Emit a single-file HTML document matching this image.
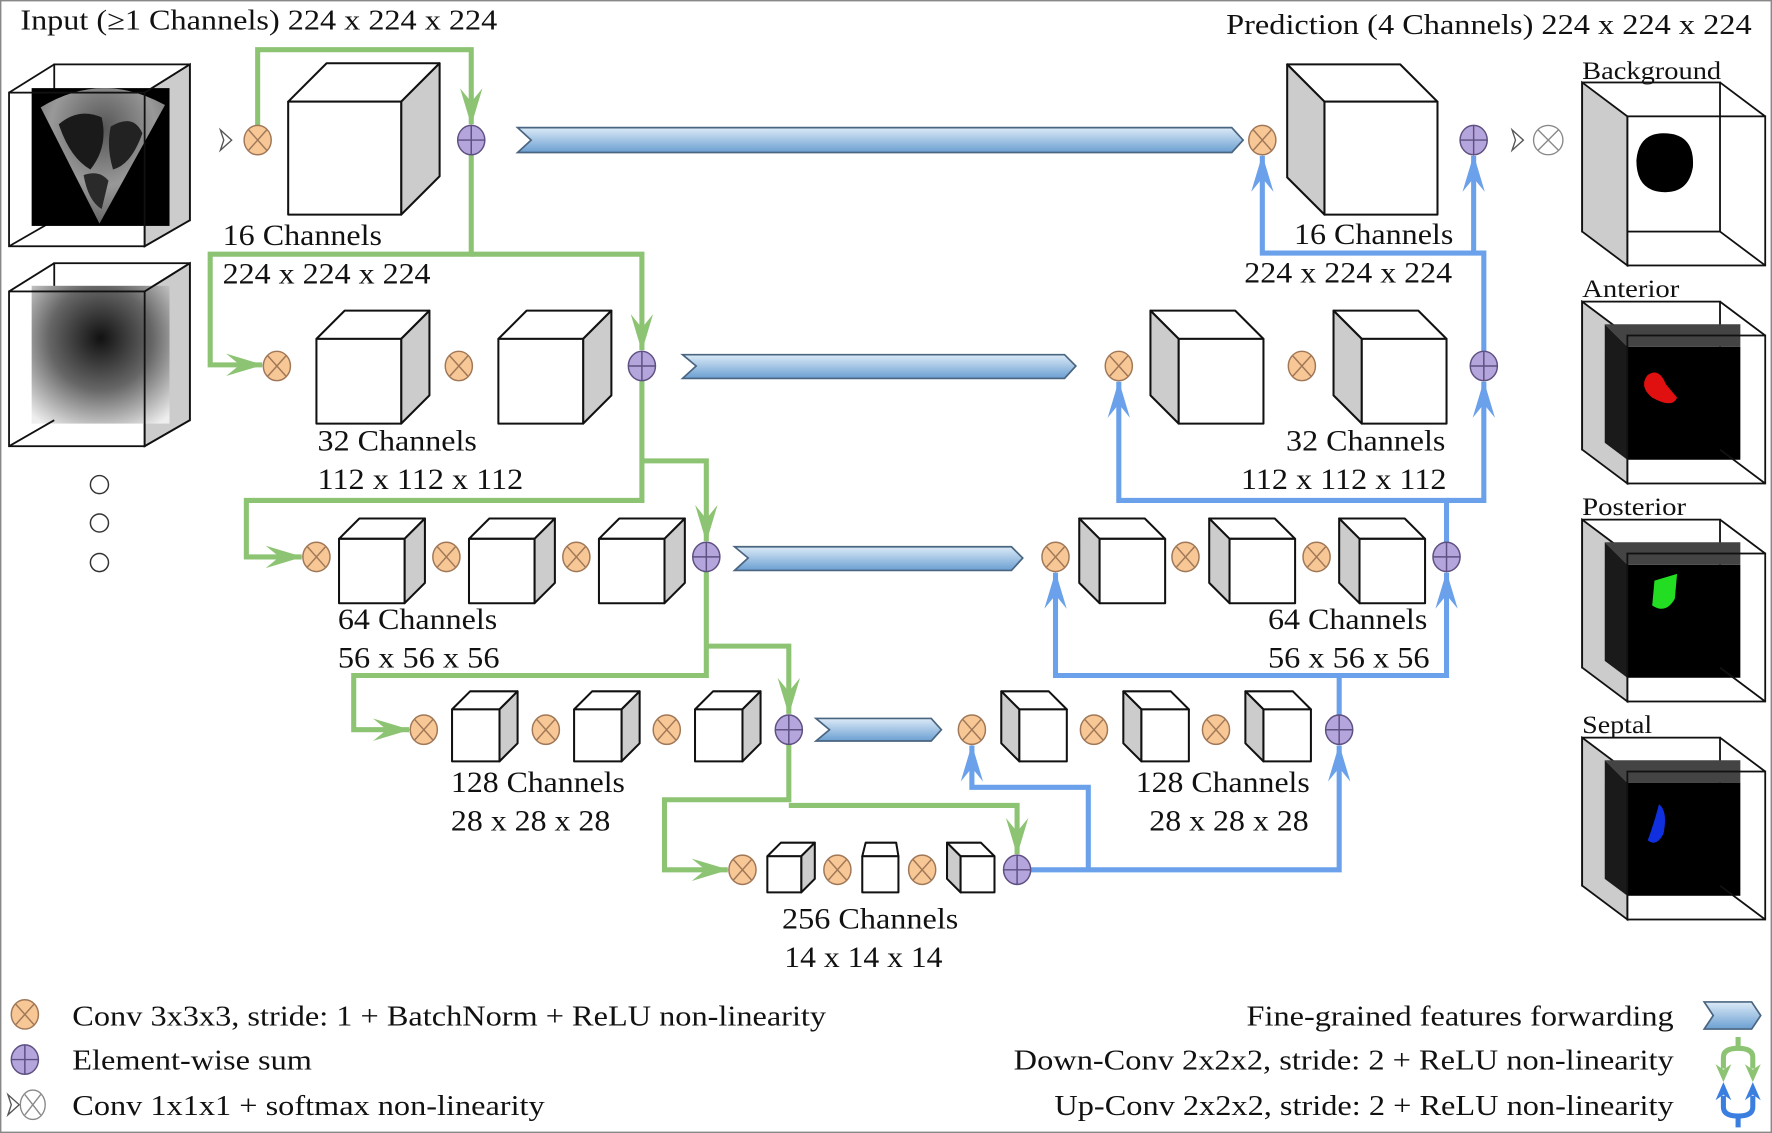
<!DOCTYPE html>
<html><head><meta charset="utf-8"><style>
html,body{margin:0;padding:0;background:#fff}
svg{display:block}
text{font-family:"Liberation Serif",serif;fill:#111}
</style></head><body>
<svg width="1772" height="1133" viewBox="0 0 1568 1003" preserveAspectRatio="none" xmlns="http://www.w3.org/2000/svg">
<defs>
<linearGradient id="fw" x1="0" y1="0" x2="0" y2="1"><stop offset="0" stop-color="#dceaf7"/><stop offset="1" stop-color="#6b9fd2"/></linearGradient>
<radialGradient id="rg" cx="0.5" cy="0.38" r="0.75"><stop offset="0" stop-color="#111"/><stop offset="0.5" stop-color="#666"/><stop offset="1" stop-color="#eee"/></radialGradient>
<radialGradient id="us" cx="0.5" cy="0.3" r="0.7"><stop offset="0" stop-color="#555"/><stop offset="0.6" stop-color="#999"/><stop offset="1" stop-color="#666"/></radialGradient>
<marker id="ag" markerUnits="userSpaceOnUse" viewBox="0 0 30 20" refX="29" refY="10" markerWidth="34" markerHeight="22" orient="auto"><path d="M0,1 L30,10 L0,19 L11,10 Z" fill="#8dc473"/></marker>
<marker id="ab" markerUnits="userSpaceOnUse" viewBox="0 0 30 20" refX="29" refY="10" markerWidth="34" markerHeight="22" orient="auto"><path d="M0,1 L30,10 L0,19 L11,10 Z" fill="#6aa1ea"/></marker>
</defs>
<rect x="0.5" y="0.5" width="1567" height="1002" fill="#fff" stroke="#888" stroke-width="1.5"/>

<!-- input cubes -->
<g stroke="#111" stroke-width="1.6">
<rect x="48" y="57" width="120" height="138" fill="#fff"/>
<polygon points="128,82 168,57 168,195 128,218" fill="#ccc"/>
<line x1="8" y1="82" x2="48" y2="57"/><line x1="8" y1="218" x2="48" y2="195"/>
</g>
<rect x="28" y="78" width="122" height="122" fill="#000"/>
<path d="M36,95 Q90,62 146,93 L88,198 Z" fill="url(#us)"/>
<path d="M52,110 Q70,95 90,104 Q96,130 80,150 Q62,140 52,110Z" fill="#1a1a1a"/>
<path d="M98,112 Q118,100 126,118 Q116,146 100,150 Q94,130 98,112Z" fill="#222"/>
<path d="M74,155 Q88,150 96,160 L90,185 Q78,178 74,155Z" fill="#2a2a2a"/>
<g stroke="#111" stroke-width="1.6" fill="none">
<rect x="8" y="82" width="120" height="136"/>
<line x1="128" y1="218" x2="168" y2="195"/><line x1="128" y1="82" x2="168" y2="57"/>
</g>
<g stroke="#111" stroke-width="1.6">
<rect x="48" y="233" width="120" height="139" fill="#fff"/>
<polygon points="128,258 168,233 168,372 128,395" fill="#ccc"/>
</g>
<rect x="28" y="253" width="122" height="122" fill="url(#rg)"/>
<g stroke="#111" stroke-width="1.6" fill="none">
<rect x="8" y="258" width="120" height="137"/>
<line x1="8" y1="258" x2="48" y2="233"/><line x1="8" y1="395" x2="48" y2="372"/>
<line x1="128" y1="258" x2="168" y2="233"/><line x1="128" y1="395" x2="168" y2="372"/>
</g>
<g fill="#fff" stroke="#333" stroke-width="1.3">
<circle cx="88" cy="429" r="8"/><circle cx="88" cy="463" r="8"/><circle cx="88" cy="498" r="8"/>
</g>

<!-- output cubes -->
<g stroke="#111" stroke-width="1.6">
<rect x="1400" y="73" width="122" height="132" fill="#fff"/>
<polygon points="1400,73 1440,103 1440,235 1400,205" fill="#ccc"/>
<path d="M1472,118 Q1500,118 1498,148 Q1494,172 1470,170 Q1448,168 1448,142 Q1450,118 1472,118Z" fill="#000" stroke="none"/>
<rect x="1440" y="103" width="122" height="132" fill="none"/>
<line x1="1522" y1="73" x2="1562" y2="103"/><line x1="1522" y1="205" x2="1562" y2="235"/>
</g>
<g stroke="#111" stroke-width="1.6">
<rect x="1400" y="267" width="122" height="131" fill="#fff"/>
<polygon points="1400,267 1440,297 1440,428 1400,398" fill="#ccc"/>
<polygon points="1420,287 1540,287 1540,307 1440,307" fill="#444" stroke="none"/>
<polygon points="1420,287 1440,307 1440,407 1420,392" fill="#1a1a1a" stroke="none"/>
<rect x="1440" y="307" width="100" height="100" fill="#000" stroke="none"/>
<path d="M1458,332 Q1468,325 1474,340 L1484,352 Q1480,362 1462,352 Q1450,342 1458,332Z" fill="#e01010" stroke="none"/>
<rect x="1440" y="297" width="122" height="131" fill="none"/>
<line x1="1522" y1="267" x2="1562" y2="297"/><line x1="1522" y1="398" x2="1562" y2="428"/>
</g>
<g stroke="#111" stroke-width="1.6">
<rect x="1400" y="460" width="122" height="131" fill="#fff"/>
<polygon points="1400,460 1440,490 1440,621 1400,591" fill="#ccc"/>
<polygon points="1420,480 1540,480 1540,500 1440,500" fill="#444" stroke="none"/>
<polygon points="1420,480 1440,500 1440,600 1420,585" fill="#1a1a1a" stroke="none"/>
<rect x="1440" y="500" width="100" height="100" fill="#000" stroke="none"/>
<path d="M1464,514 L1484,508 L1482,530 Q1474,544 1462,536 Z" fill="#22dd22" stroke="none"/>
<rect x="1440" y="490" width="122" height="131" fill="none"/>
<line x1="1522" y1="460" x2="1562" y2="490"/><line x1="1522" y1="591" x2="1562" y2="621"/>
</g>
<g stroke="#111" stroke-width="1.6">
<rect x="1400" y="653" width="122" height="131" fill="#fff"/>
<polygon points="1400,653 1440,683 1440,814 1400,784" fill="#ccc"/>
<polygon points="1420,673 1540,673 1540,693 1440,693" fill="#444" stroke="none"/>
<polygon points="1420,673 1440,693 1440,793 1420,778" fill="#1a1a1a" stroke="none"/>
<rect x="1440" y="693" width="100" height="100" fill="#000" stroke="none"/>
<path d="M1468,712 Q1476,718 1472,738 Q1466,750 1458,744 Q1464,728 1468,712Z" fill="#1030e0" stroke="none"/>
<rect x="1440" y="683" width="122" height="131" fill="none"/>
<line x1="1522" y1="653" x2="1562" y2="683"/><line x1="1522" y1="784" x2="1562" y2="814"/>
</g>

<!-- forward arrows -->
<g fill="url(#fw)" stroke="#4a6580" stroke-width="1.5">
<polygon points="458,113 1090,113 1100,124 1090,135 458,135 470,124"/>
<polygon points="604,314 942,314 952,324 942,335 604,335 616,324"/>
<polygon points="650,484 895,484 905,494 895,505 650,505 662,494"/>
<polygon points="722,636 824,636 833,646 824,656 722,656 734,646"/>
</g>

<!-- green down paths -->
<g fill="none" stroke="#8dc473" stroke-width="4.5" stroke-linejoin="miter">
<path d="M228,111 V44 H417 V110" marker-end="url(#ag)"/>
<path d="M417,137 V225 H186 V323 H232" marker-end="url(#ag)"/>
<path d="M417,225 H568 V310" marker-end="url(#ag)"/>
<path d="M568,337 V443 H218 V493 H267" marker-end="url(#ag)"/>
<path d="M568,408 H625 V479" marker-end="url(#ag)"/>
<path d="M625,506 V598 H313 V646 H362" marker-end="url(#ag)"/>
<path d="M625,572 H698 V632" marker-end="url(#ag)"/>
<path d="M698,659 V708 H588 V770 H644" marker-end="url(#ag)"/>
<path d="M698,713 H900 V756" marker-end="url(#ag)"/>
</g>
<!-- blue up paths -->
<g fill="none" stroke="#6aa1ea" stroke-width="4.5">
<path d="M912,770 H1185 V660" marker-end="url(#ab)"/>
<path d="M963,770 V697 H860 V660" marker-end="url(#ab)"/>
<path d="M1185,633 V598 H934 V507" marker-end="url(#ab)"/>
<path d="M1185,598 H1280 V507" marker-end="url(#ab)"/>
<path d="M1280,480 V443 H990 V338" marker-end="url(#ab)"/>
<path d="M1280,443 H1313 V338" marker-end="url(#ab)"/>
<path d="M1313,311 V224 H1117 V138" marker-end="url(#ab)"/>
<path d="M1304,224 V138" marker-end="url(#ab)"/>
</g>

<!-- encoder cubes -->
<g stroke="#111" stroke-width="1.8" stroke-linejoin="round">
<polygon points="255,90 289,56 389,56 355,90" fill="#fff"/><polygon points="355,90 389,56 389,156 355,190" fill="#ccc"/><rect x="255" y="90" width="100" height="100" fill="#fff"/>
<polygon points="280,300 305,275 380,275 355,300" fill="#fff"/><polygon points="355,300 380,275 380,350 355,375" fill="#ccc"/><rect x="280" y="300" width="75" height="75" fill="#fff"/>
<polygon points="441,300 466,275 541,275 516,300" fill="#fff"/><polygon points="516,300 541,275 541,350 516,375" fill="#ccc"/><rect x="441" y="300" width="75" height="75" fill="#fff"/>
<polygon points="300,477 318,459 376,459 358,477" fill="#fff"/><polygon points="358,477 376,459 376,516 358,534" fill="#ccc"/><rect x="300" y="477" width="58" height="57" fill="#fff"/>
<polygon points="415,477 433,459 491,459 473,477" fill="#fff"/><polygon points="473,477 491,459 491,516 473,534" fill="#ccc"/><rect x="415" y="477" width="58" height="57" fill="#fff"/>
<polygon points="530,477 548,459 606,459 588,477" fill="#fff"/><polygon points="588,477 606,459 606,516 588,534" fill="#ccc"/><rect x="530" y="477" width="58" height="57" fill="#fff"/>
<polygon points="400,628 416,612 458,612 442,628" fill="#fff"/><polygon points="442,628 458,612 458,658 442,674" fill="#ccc"/><rect x="400" y="628" width="42" height="46" fill="#fff"/>
<polygon points="508,628 524,612 566,612 550,628" fill="#fff"/><polygon points="550,628 566,612 566,658 550,674" fill="#ccc"/><rect x="508" y="628" width="42" height="46" fill="#fff"/>
<polygon points="615,628 631,612 673,612 657,628" fill="#fff"/><polygon points="657,628 673,612 673,658 657,674" fill="#ccc"/><rect x="615" y="628" width="42" height="46" fill="#fff"/>
<polygon points="679,758 691,746 721,746 709,758" fill="#fff"/><polygon points="709,758 721,746 721,778 709,790" fill="#ccc"/><rect x="679" y="758" width="30" height="32" fill="#fff"/>
<polygon points="763,758 766,746 793,746 795,758" fill="#fff"/><rect x="763" y="758" width="32" height="32" fill="#fff"/>
<polygon points="850,758 838,746 868,746 880,758" fill="#fff"/><polygon points="850,758 838,746 838,778 850,790" fill="#ccc"/><rect x="850" y="758" width="30" height="32" fill="#fff"/>
</g>
<!-- decoder cubes -->
<g stroke="#111" stroke-width="1.8" stroke-linejoin="round">
<polygon points="1172,90 1139,57 1239,57 1272,90" fill="#fff"/><polygon points="1172,90 1139,57 1139,157 1172,190" fill="#ccc"/><rect x="1172" y="90" width="100" height="100" fill="#fff"/>
<polygon points="1043,300 1018,275 1093,275 1118,300" fill="#fff"/><polygon points="1043,300 1018,275 1018,350 1043,375" fill="#ccc"/><rect x="1043" y="300" width="75" height="75" fill="#fff"/>
<polygon points="1205,300 1180,275 1255,275 1280,300" fill="#fff"/><polygon points="1205,300 1180,275 1180,350 1205,375" fill="#ccc"/><rect x="1205" y="300" width="75" height="75" fill="#fff"/>
<polygon points="973,477 955,459 1013,459 1031,477" fill="#fff"/><polygon points="973,477 955,459 955,516 973,534" fill="#ccc"/><rect x="973" y="477" width="58" height="57" fill="#fff"/>
<polygon points="1088,477 1070,459 1128,459 1146,477" fill="#fff"/><polygon points="1088,477 1070,459 1070,516 1088,534" fill="#ccc"/><rect x="1088" y="477" width="58" height="57" fill="#fff"/>
<polygon points="1203,477 1185,459 1243,459 1261,477" fill="#fff"/><polygon points="1203,477 1185,459 1185,516 1203,534" fill="#ccc"/><rect x="1203" y="477" width="58" height="57" fill="#fff"/>
<polygon points="902,628 886,612 928,612 944,628" fill="#fff"/><polygon points="902,628 886,612 886,658 902,674" fill="#ccc"/><rect x="902" y="628" width="42" height="46" fill="#fff"/>
<polygon points="1010,628 994,612 1036,612 1052,628" fill="#fff"/><polygon points="1010,628 994,612 994,658 1010,674" fill="#ccc"/><rect x="1010" y="628" width="42" height="46" fill="#fff"/>
<polygon points="1118,628 1102,612 1144,612 1160,628" fill="#fff"/><polygon points="1118,628 1102,612 1102,658 1118,674" fill="#ccc"/><rect x="1118" y="628" width="42" height="46" fill="#fff"/>
</g>

<!-- conv circles -->
<g stroke="#a07858" stroke-width="1.3">
<g fill="#f8c796">
<ellipse cx="228" cy="124" rx="12" ry="13"/><ellipse cx="1117" cy="124" rx="12" ry="13"/>
<ellipse cx="245" cy="324" rx="12" ry="13"/><ellipse cx="406" cy="324" rx="12" ry="13"/><ellipse cx="990" cy="324" rx="12" ry="13"/><ellipse cx="1152" cy="324" rx="12" ry="13"/>
<ellipse cx="280" cy="493" rx="12" ry="13"/><ellipse cx="395" cy="493" rx="12" ry="13"/><ellipse cx="510" cy="493" rx="12" ry="13"/><ellipse cx="934" cy="493" rx="12" ry="13"/><ellipse cx="1049" cy="493" rx="12" ry="13"/><ellipse cx="1165" cy="493" rx="12" ry="13"/>
<ellipse cx="375" cy="646" rx="12" ry="13"/><ellipse cx="483" cy="646" rx="12" ry="13"/><ellipse cx="590" cy="646" rx="12" ry="13"/><ellipse cx="860" cy="646" rx="12" ry="13"/><ellipse cx="968" cy="646" rx="12" ry="13"/><ellipse cx="1076" cy="646" rx="12" ry="13"/>
<ellipse cx="657" cy="770" rx="12" ry="13"/><ellipse cx="741" cy="770" rx="12" ry="13"/><ellipse cx="816" cy="770" rx="12" ry="13"/>
<ellipse cx="22" cy="898" rx="12" ry="13"/>
</g>
<path fill="none" d="
M220,115 l16,18 m0,-18 l-16,18 M1109,115 l16,18 m0,-18 l-16,18
M237,315 l16,18 m0,-18 l-16,18 M398,315 l16,18 m0,-18 l-16,18 M982,315 l16,18 m0,-18 l-16,18 M1144,315 l16,18 m0,-18 l-16,18
M272,484 l16,18 m0,-18 l-16,18 M387,484 l16,18 m0,-18 l-16,18 M502,484 l16,18 m0,-18 l-16,18 M926,484 l16,18 m0,-18 l-16,18 M1041,484 l16,18 m0,-18 l-16,18 M1157,484 l16,18 m0,-18 l-16,18
M367,637 l16,18 m0,-18 l-16,18 M475,637 l16,18 m0,-18 l-16,18 M582,637 l16,18 m0,-18 l-16,18 M852,637 l16,18 m0,-18 l-16,18 M960,637 l16,18 m0,-18 l-16,18 M1068,637 l16,18 m0,-18 l-16,18
M649,761 l16,18 m0,-18 l-16,18 M733,761 l16,18 m0,-18 l-16,18 M808,761 l16,18 m0,-18 l-16,18
M14,889 l16,18 m0,-18 l-16,18"/>
</g>
<!-- sum circles -->
<g stroke="#5e5080" stroke-width="1.3">
<g fill="#b5a5dd">
<ellipse cx="417" cy="124" rx="12" ry="13"/><ellipse cx="1304" cy="124" rx="12" ry="13"/>
<ellipse cx="568" cy="324" rx="12" ry="13"/><ellipse cx="1313" cy="324" rx="12" ry="13"/>
<ellipse cx="625" cy="493" rx="12" ry="13"/><ellipse cx="1280" cy="493" rx="12" ry="13"/>
<ellipse cx="698" cy="646" rx="12" ry="13"/><ellipse cx="1185" cy="646" rx="12" ry="13"/>
<ellipse cx="900" cy="770" rx="12" ry="13"/>
<ellipse cx="22" cy="938" rx="12" ry="13"/>
</g>
<path fill="none" d="
M405,124 h24 M417,111 v26 M1292,124 h24 M1304,111 v26
M556,324 h24 M568,311 v26 M1301,324 h24 M1313,311 v26
M613,493 h24 M625,480 v26 M1268,493 h24 M1280,480 v26
M686,646 h24 M698,633 v26 M1173,646 h24 M1185,633 v26
M888,770 h24 M900,757 v26 M10,938 h24 M22,925 v26"/>
</g>
<!-- softmax markers -->
<g fill="#fff" stroke="#555" stroke-width="1.2">
<path d="M195,115 l10,9 l-10,9 l3,-9 Z"/>
<path d="M1338,115 l10,9 l-10,9 l3,-9 Z"/>
<ellipse cx="1370" cy="124" rx="13" ry="13" stroke="#888"/>
<path d="M1361,115 l18,18 m0,-18 l-18,18" fill="none" stroke="#888"/>
<path d="M7,969 l10,9 l-10,9 l3,-9 Z"/>
<ellipse cx="29" cy="978" rx="11" ry="13" stroke="#888"/>
<path d="M22,969 l14,18 m0,-18 l-14,18" fill="none" stroke="#888"/>
</g>

<!-- legend icons -->
<polygon points="1508,887 1550,887 1558,899 1550,911 1508,911 1516,899" fill="url(#fw)" stroke="#4a6580" stroke-width="1.5"/>
<path d="M1525,946 V936 Q1525,928 1538,928 Q1551,928 1551,936 V946 M1538,928 V918" fill="none" stroke="#8dc473" stroke-width="4.5"/>
<path d="M1518,942 L1525,958 L1532,942 L1525,947Z M1544,942 L1551,958 L1558,942 L1551,947Z" fill="#8dc473"/>
<path d="M1525,970 V980 Q1525,988 1538,988 Q1551,988 1551,980 V970 M1538,988 V998" fill="none" stroke="#3a7ee0" stroke-width="4.5"/>
<path d="M1518,974 L1525,958 L1532,974 L1525,969Z M1544,974 L1551,958 L1558,974 L1551,969Z" fill="#3a7ee0"/>

<!-- text -->
<g font-size="25">
<text x="18" y="26" textLength="422" lengthAdjust="spacingAndGlyphs">Input (≥1 Channels) 224 x 224 x 224</text>
<text x="1085" y="30" textLength="465" lengthAdjust="spacingAndGlyphs">Prediction (4 Channels) 224 x 224 x 224</text>
</g>
<g font-size="22">
<text x="1400" y="70" textLength="123" lengthAdjust="spacingAndGlyphs">Background</text>
<text x="1400" y="263" textLength="86" lengthAdjust="spacingAndGlyphs">Anterior</text>
<text x="1400" y="456" textLength="92" lengthAdjust="spacingAndGlyphs">Posterior</text>
<text x="1400" y="649" textLength="62" lengthAdjust="spacingAndGlyphs">Septal</text>
</g>
<g font-size="26">
<text x="197" y="217" textLength="141" lengthAdjust="spacingAndGlyphs">16 Channels</text>
<text x="197" y="251" textLength="184" lengthAdjust="spacingAndGlyphs">224 x 224 x 224</text>
<text x="1145" y="216" textLength="141" lengthAdjust="spacingAndGlyphs">16 Channels</text>
<text x="1101" y="250" textLength="184" lengthAdjust="spacingAndGlyphs">224 x 224 x 224</text>
<text x="281" y="399" textLength="141" lengthAdjust="spacingAndGlyphs">32 Channels</text>
<text x="281" y="433" textLength="182" lengthAdjust="spacingAndGlyphs">112 x 112 x 112</text>
<text x="1138" y="399" textLength="141" lengthAdjust="spacingAndGlyphs">32 Channels</text>
<text x="1098" y="433" textLength="182" lengthAdjust="spacingAndGlyphs">112 x 112 x 112</text>
<text x="299" y="557" textLength="141" lengthAdjust="spacingAndGlyphs">64 Channels</text>
<text x="299" y="591" textLength="143" lengthAdjust="spacingAndGlyphs">56 x 56 x 56</text>
<text x="1122" y="557" textLength="141" lengthAdjust="spacingAndGlyphs">64 Channels</text>
<text x="1122" y="591" textLength="143" lengthAdjust="spacingAndGlyphs">56 x 56 x 56</text>
<text x="399" y="701" textLength="154" lengthAdjust="spacingAndGlyphs">128 Channels</text>
<text x="399" y="735" textLength="141" lengthAdjust="spacingAndGlyphs">28 x 28 x 28</text>
<text x="1005" y="701" textLength="154" lengthAdjust="spacingAndGlyphs">128 Channels</text>
<text x="1017" y="735" textLength="141" lengthAdjust="spacingAndGlyphs">28 x 28 x 28</text>
<text x="692" y="822" textLength="156" lengthAdjust="spacingAndGlyphs">256 Channels</text>
<text x="694" y="856" textLength="140" lengthAdjust="spacingAndGlyphs">14 x 14 x 14</text>
</g>
<g font-size="25">
<text x="64" y="908" textLength="667" lengthAdjust="spacingAndGlyphs">Conv 3x3x3, stride: 1 + BatchNorm + ReLU non-linearity</text>
<text x="64" y="947" textLength="212" lengthAdjust="spacingAndGlyphs">Element-wise sum</text>
<text x="64" y="987" textLength="418" lengthAdjust="spacingAndGlyphs">Conv 1x1x1 + softmax non-linearity</text>
<text x="1103" y="908" textLength="378" lengthAdjust="spacingAndGlyphs">Fine-grained features forwarding</text>
<text x="897" y="947" textLength="584" lengthAdjust="spacingAndGlyphs">Down-Conv 2x2x2, stride: 2 + ReLU non-linearity</text>
<text x="933" y="987" textLength="548" lengthAdjust="spacingAndGlyphs">Up-Conv 2x2x2, stride: 2 + ReLU non-linearity</text>
</g>
</svg>
</body></html>
